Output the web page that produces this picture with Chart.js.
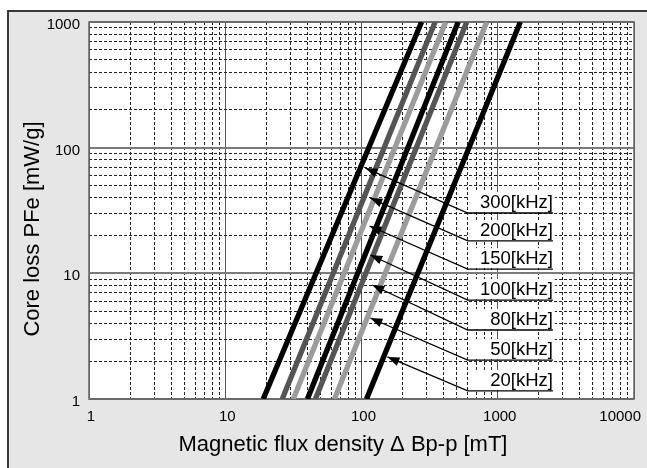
<!DOCTYPE html>
<html>
<head>
<meta charset="utf-8">
<script src="https://cdn.jsdelivr.net/npm/chart.js@4/dist/chart.umd.min.js"></script>
<style>
  html, body { margin: 0; padding: 0; background: #fff; }
  #chart { display: block; }
</style>
</head>
<body>
<canvas id="chart" width="647" height="468"></canvas>
<script>
// core loss curves, straight lines on log-log paper
const freqLabels = ['300[kHz]', '200[kHz]', '150[kHz]', '100[kHz]', '80[kHz]', '50[kHz]', '20[kHz]'];
const lossRange = [1, 1000];                                   // mW/g at the two ends of each line
const fluxAtLowLoss = [19.0, 26.2, 31.6, 40.1, 45.9, 63.3, 108.8]; // mT where PFe = 1
const fluxAtHighLoss = [276, 347, 415, 512, 592, 830, 1464];       // mT where PFe = 1000

// tick labels
const xDecades = [1, 10, 100, 1000, 10000];
const yDecades = [1, 10, 100, 1000];
const minorSteps = [2, 3, 4, 5, 6, 7, 8, 9];

// label callouts (data coordinates)
const arrowTipFlux = [107, 116, 114.5, 116, 120, 116, 155];
const arrowTipLoss = [68.8, 39.7, 23.8, 14.0, 8.07, 4.41, 2.16];
const labelLoss = [30.2, 18.1, 10.8, 6.13, 3.54, 2.04, 1.16];
const labelFlux = [602, 2540]; // start / end of the underline

const lineColors = ['#000000', '#555555', '#9c9c9c', '#000000', '#555555', '#9c9c9c', '#000000'];
const FONT = '"Liberation Sans", Arial, sans-serif';

function logTicks(decades) {
  const out = [];
  decades.forEach((d, i) => {
    out.push({ value: d, major: true });
    if (i < decades.length - 1) minorSteps.forEach(m => out.push({ value: d * m, major: false }));
  });
  return out;
}

const gridDash = ctx => ctx.tick && ctx.tick.major ? [] : [3, 2];

const decorPlugin = {
  id: 'decor',
  beforeDraw(chart) {
    const c = chart.ctx, a = chart.chartArea;
    c.save();
    c.fillStyle = '#fff';
    c.fillRect(0, 0, chart.width, chart.height);
    c.fillStyle = '#e6e6e6';
    c.fillRect(7, 10, 640, 458);
    c.strokeStyle = '#3a3a3a';
    c.lineWidth = 2;
    c.strokeRect(8, 11, 640, 460);
    c.fillStyle = '#fff';
    c.fillRect(a.left, a.top, a.right - a.left, a.bottom - a.top);
    c.restore();
  },
  beforeDatasetsDraw(chart) {
    const c = chart.ctx, a = chart.chartArea;
    c.save();
    c.strokeStyle = '#666';
    c.lineWidth = 1.5;
    c.strokeRect(a.left, a.top, a.right - a.left, a.bottom - a.top);
    c.restore();
  },
  afterDraw(chart) {
    const c = chart.ctx;
    const xs = chart.scales.x, ys = chart.scales.y;
    c.save();
    // tick labels
    c.fillStyle = '#000';
    c.font = '15px ' + FONT;
    c.textAlign = 'right';
    c.textBaseline = 'middle';
    yDecades.forEach(v => c.fillText(String(v), 80, ys.getPixelForValue(v) + 3));
    c.textAlign = 'center';
    xDecades.forEach(v => {
      const s = String(v);
      const w = c.measureText(s).width;
      let px = xs.getPixelForValue(v) + 2;
      if (px + w / 2 > 641) px = 641 - w / 2;
      c.fillText(s, px, 417);
    });
    // axis titles
    c.font = '22px ' + FONT;
    c.fillText('Magnetic flux density \u0394 Bp-p [mT]', 343, 445);
    c.save();
    c.translate(33, 229);
    c.rotate(-Math.PI / 2);
    c.fillText('Core loss PFe [mW/g]', 0, 0);
    c.restore();

    // callouts
    const x0 = xs.getPixelForValue(labelFlux[0]);
    const x1 = xs.getPixelForValue(labelFlux[1]);
    freqLabels.forEach((lab, i) => {
      const ly = ys.getPixelForValue(labelLoss[i]);
      const tx = xs.getPixelForValue(arrowTipFlux[i]);
      const ty = ys.getPixelForValue(arrowTipLoss[i]);
      c.fillStyle = '#fff';
      c.fillRect(x0 + 1, ly - 21, x1 - x0 + 1, 20);
      c.strokeStyle = '#000';
      c.lineWidth = 1.3;
      c.beginPath();
      c.moveTo(tx, ty);
      c.lineTo(x0, ly);
      c.lineTo(x1, ly);
      c.stroke();
      const ang = Math.atan2(ly - ty, x0 - tx);
      const L = 12, W = 4.5;
      c.fillStyle = '#000';
      c.beginPath();
      c.moveTo(tx, ty);
      c.lineTo(tx + L * Math.cos(ang) - W * Math.sin(ang), ty + L * Math.sin(ang) + W * Math.cos(ang));
      c.lineTo(tx + L * Math.cos(ang) + W * Math.sin(ang), ty + L * Math.sin(ang) - W * Math.cos(ang));
      c.closePath();
      c.fill();
      c.font = '18.5px ' + FONT;
      c.textAlign = 'right';
      c.textBaseline = 'alphabetic';
      c.fillText(lab, x1, ly - 5);
    });
    c.restore();
  }
};

const ctx = document.getElementById('chart').getContext('2d');
new Chart(ctx, {
  type: 'line',
  data: {
    datasets: freqLabels.map((lab, i) => ({
      label: lab,
      data: [
        { x: fluxAtLowLoss[i], y: lossRange[0] },
        { x: fluxAtHighLoss[i], y: lossRange[1] }
      ],
      borderColor: lineColors[i],
      borderWidth: 5.3,
      borderCapStyle: 'butt',
      pointRadius: 0,
      fill: false,
      clip: 0
    }))
  },
  options: {
    responsive: false,
    animation: false,
    events: [],
    layout: { padding: { left: 89, top: 22, right: 13, bottom: 69 } },
    plugins: { legend: { display: false }, tooltip: { enabled: false } },
    scales: {
      x: {
        type: 'logarithmic',
        min: xDecades[0],
        max: xDecades[xDecades.length - 1],
        afterBuildTicks: s => { s.ticks = logTicks(xDecades); },
        afterFit: s => { s.height = 0; },
        ticks: { display: false },
        grid: {
          drawTicks: false,
          color: ctx => ctx.tick && ctx.tick.major ? '#555' : '#222',
          lineWidth: 1
        },
        border: { display: false, dash: gridDash }
      },
      y: {
        type: 'logarithmic',
        min: yDecades[0],
        max: yDecades[yDecades.length - 1],
        afterBuildTicks: s => { s.ticks = logTicks(yDecades); },
        afterFit: s => { s.width = 0; },
        ticks: { display: false },
        grid: {
          drawTicks: false,
          color: ctx => ctx.tick && ctx.tick.major ? '#7a7a7a' : '#222',
          lineWidth: ctx => ctx.tick && ctx.tick.major ? 2 : 1
        },
        border: { display: false, dash: gridDash }
      }
    }
  },
  plugins: [decorPlugin]
});
</script>
</body>
</html>
